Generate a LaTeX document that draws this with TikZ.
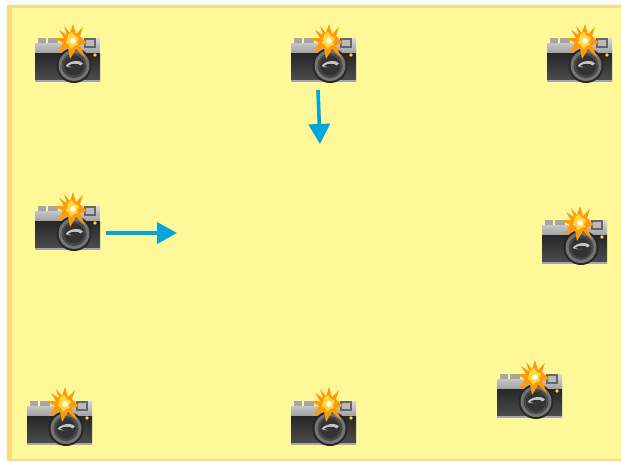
\documentclass[tikz,border=0pt]{standalone}
\usetikzlibrary{arrows.meta}
\definecolor{paper}{HTML}{FFF899}
\definecolor{edge}{HTML}{FFD97A}
\definecolor{flow}{HTML}{00A5DC}
\definecolor{flashO}{HTML}{FF9A0A}
\definecolor{flashY}{HTML}{FFD83A}
\tikzset{
  flowarrow/.style={draw=flow,line width=3.6pt,-{Triangle[length=20pt,width=21pt]}},
  camera/.pic={
    % knobs
    \fill[gray!70] (3,-44) rectangle (11,-38);
    \fill[gray!70] (13,-44) rectangle (23,-38);
    % top plate
    \shade[top color=gray!30,bottom color=gray!75] (0,-39) -- (46,-39) -- (46,-44) -- (65,-44) -- (65,-29) -- (0,-29) -- cycle;
    % body
    \shade[top color=black!85,bottom color=black!70] (0,-29) rectangle (65,-2);
    \fill[black!35] (0,-2) rectangle (65,0);
    % viewfinder
    \fill[black!60] (49,-44) rectangle (61,-34);
    \fill[gray!55] (51,-42) rectangle (59,-36);
    \fill[flashY] (60,-27) circle (1.8);
    % lens
    \fill[black!85] (39,-16.5) circle (17.5);
    \fill[black!55] (39,-16.5) circle (15.5);
    \fill[black!72] (39,-16.5) circle (12.5);
    \fill[black!80] (39,-16.5) circle (10);
    \fill[gray!45,rotate around={8:(39,-17)}] (30.5,-17) .. controls (34,-22) and (46,-22) .. (48,-17) .. controls (45,-14) and (35,-14) .. cycle;
    \fill[black!80] (33,-16) .. controls (36,-19) and (44,-19) .. (46,-16) .. controls (44,-14.5) and (36,-14.5) .. cycle;
    % flash
    \fill[flashO] (29,-56) -- (35,-49) -- (38,-58) -- (41,-48) -- (48,-55) -- (45,-46) -- (52,-39) -- (45,-37)
       -- (50,-25) -- (41,-33) -- (35,-23) -- (33,-34) -- (22,-29) -- (28,-39) -- (19,-44) -- (29,-44) -- (24,-52) -- (32,-47) -- cycle;
    \fill[flashY] (33,-47) -- (37,-50) -- (40,-46) -- (44,-44) -- (42,-40) -- (43,-37) -- (39,-36) -- (36,-33) -- (34,-37) -- (31,-39) -- (32,-43) -- cycle;
    \fill[white] (38,-41) circle (2.8);
  }
}
\begin{document}
\begin{tikzpicture}[x=1pt,y=-1pt]
\useasboundingbox (0,0) rectangle (621,461);
\fill[edge] (7,5) rectangle (621,461);
\fill[paper] (12,8) rectangle (621,459);
\foreach \cx/\cy in {35/82,291/82,547/82,35/250,542/264,27/445,291/445,497/418}
  \pic at (\cx,\cy) {camera};
\coordinate (a1) at (318,90);
\coordinate (a2) at (320,144);
\coordinate (b1) at (106,233);
\coordinate (b2) at (177,233);
\draw[flowarrow] (a1) -- (a2);
\draw[flowarrow] (b1) -- (b2);
\end{tikzpicture}
\end{document}
